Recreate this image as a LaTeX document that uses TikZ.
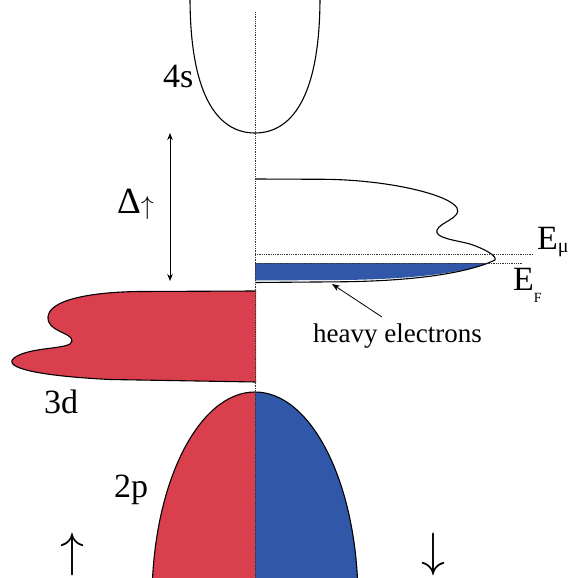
\documentclass[tikz,border=0pt]{standalone}
\usepackage{fontspec}
\setmainfont{Liberation Serif}
\usetikzlibrary{arrows.meta}
\definecolor{spinred}{HTML}{DA3F4E}
\definecolor{spinblue}{HTML}{3158A8}
\begin{document}
\begin{tikzpicture}[x=1pt,y=-1pt,
  outline/.style={line width=1.1pt, black},
  guide/.style={line width=0.8pt, dash pattern=on 0.9pt off 0.9pt, black!80},
  lbl/.style={inner sep=0pt, anchor=base west, font=\fontsize{34}{34}\selectfont},
  pointer/.style={line width=0.8pt, -{Stealth[length=8pt,width=6pt]}},
  spinarrow/.style={inner sep=0pt, anchor=north, font=\fontsize{10}{10}\selectfont},
]
\useasboundingbox (0,0) rectangle (571,578);

% 4s band
\draw[outline] (190,-3) .. controls (190,100) and (220,133) .. (255,133)
  .. controls (290,133) and (320,100) .. (320,-3);

% spin-down 3d band (filled part below E_F)
\fill[spinblue] (255,263) -- (490,263) .. controls (465,272) and (415,279.5) .. (340,280) -- (255,280.5) -- cycle;
\draw[outline] (255,179) -- (325,179.3) .. controls (390,180) and (450,195) .. (457,208)
  .. controls (462,218) and (440,222) .. (437,230)
  .. controls (434,238) and (455,240) .. (470,244)
  .. controls (485,249) and (497,256) .. (495,260)
  .. controls (470,272) and (420,281) .. (340,281.8) -- (255,282.5);

% Fermi levels
\coordinate (emuL) at (255,254);
\coordinate (emuR) at (533,254);
\coordinate (efL) at (255,263);
\coordinate (efR) at (523,263);
\draw[guide] (emuL) -- (emuR);
\draw[guide] (efL) -- (efR);

% spin-up 3d band
\fill[spinred] (256,291) -- (140,291.5)
  .. controls (90,292) and (49,300) .. (48,317)
  .. controls (47,332) and (72,332) .. (72,341)
  .. controls (72,350) and (30,346) .. (14,358)
  .. controls (2,368) and (40,376) .. (110,379.5)
  -- (256,382) -- cycle;
\draw[outline] (256,291) -- (140,291.5)
  .. controls (90,292) and (49,300) .. (48,317)
  .. controls (47,332) and (72,332) .. (72,341)
  .. controls (72,350) and (30,346) .. (14,358)
  .. controls (2,368) and (40,376) .. (110,379.5)
  -- (256,382);

% 2p band
\fill[spinred] (255,392) .. controls (198,392) and (152,485) .. (152,600) -- (255,600) -- cycle;
\fill[spinblue] (255,392) .. controls (312,392) and (358,485) .. (358,600) -- (255,600) -- cycle;
\draw[outline] (152,600) .. controls (152,485) and (198,392) .. (255,392)
  .. controls (312,392) and (358,485) .. (358,600);

% axis
\coordinate (axtop) at (255,12);
\coordinate (axbot) at (255,580);
\draw[guide] (axtop) -- (axbot);

% exchange splitting
\coordinate (dtop) at (170,133);
\coordinate (dbot) at (170,281);
\draw[line width=0.8pt, {Stealth[length=7pt,width=5.5pt]}-{Stealth[length=7pt,width=5.5pt]}] (dtop) -- (dbot);

% labels
\node[lbl] (l4s) at (163,87) {4s};
\node[lbl] (l3d) at (44,413) {3d};
\node[lbl] (l2p) at (114,497) {2p};
\node[lbl, font=\fontsize{37}{37}\selectfont] (ldelta) at (117,213) {Δ\raisebox{-1pt}{\fontsize{10}{10}\selectfont\scalebox{2.6}{$\uparrow$}}};
\node[lbl] (lemu) at (537,249) {E\raisebox{-3pt}{\fontsize{20}{20}\selectfont μ}};
\node[lbl] (lef) at (513,290) {E\raisebox{-12pt}{\fontsize{14}{14}\selectfont F}};
\node[lbl, font=\fontsize{27}{27}\selectfont] (lhe) at (313,342) {heavy electrons};
\coordinate (hetail) at (382,317);
\coordinate (hetip) at (332,284);
\draw[pointer] (hetail) -- (hetip);

% spin arrows
\node[spinarrow] (upspin) at (72,533) {\scalebox{4.8}{$\uparrow$}};
\node[spinarrow] (downspin) at (433,533) {\scalebox{4.8}{$\downarrow$}};
\end{tikzpicture}
\end{document}
